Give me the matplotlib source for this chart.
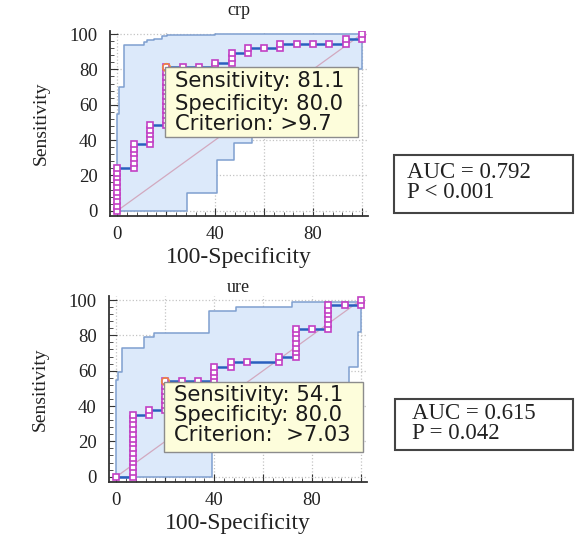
import matplotlib.pyplot as plt
from matplotlib.patches import Rectangle

# crp: roc points (100-specificity, sensitivity) in %
crp_x = [0, 0, 0, 0, 0, 0, 0, 0, 0, 0,
         6.7, 6.7, 6.7, 6.7, 6.7, 6.7,
         13.3, 13.3, 13.3, 13.3, 13.3,
         20, 20, 20, 20, 20, 20, 20, 20, 20, 20, 20, 20, 20,
         26.7, 33.3, 40, 40, 46.7, 46.7, 46.7, 53.3, 53.3, 60,
         66.7, 66.7, 73.3, 80, 86.7, 93.3, 93.3, 100, 100]
crp_y = [0, 2.7, 5.4, 8.1, 10.8, 13.5, 16.2, 18.9, 21.6, 24.3,
         24.3, 27.0, 29.7, 32.4, 35.1, 37.8,
         37.8, 40.5, 43.2, 45.9, 48.6,
         48.6, 51.4, 54.1, 56.8, 59.5, 62.2, 64.9, 67.6, 70.3, 73.0, 75.7, 78.4, 81.1,
         81.1, 81.1, 81.1, 83.8, 83.8, 86.5, 89.2, 89.2, 91.9, 91.9,
         91.9, 94.6, 94.6, 94.6, 94.6, 94.6, 97.3, 97.3, 100]
# confidence band steps (x where step starts, new value)
crp_up_x = [0, 0.7, 2.7, 10.7, 12.1, 14.8, 18.2, 20.3, 40]
crp_up_y = [55, 70, 94, 95.6, 96.5, 97.4, 98.7, 99.4, 100]
crp_lo_x = [28.4, 40.7, 47.5, 55, 72, 88, 100]
crp_lo_y = [10, 28.8, 38.2, 55, 68, 80, 100]

# ure
ure_x = [0,
         6.7, 6.7, 6.7, 6.7, 6.7, 6.7, 6.7, 6.7, 6.7, 6.7, 6.7, 6.7, 6.7, 6.7,
         13.3, 13.3,
         20, 20, 20, 20, 20, 20, 20,
         26.7, 33.3, 40, 40, 40, 40, 46.7, 46.7, 53.3, 66.7, 66.7,
         73.3, 73.3, 73.3, 73.3, 73.3, 73.3, 73.3, 80,
         86.7, 86.7, 86.7, 86.7, 86.7, 86.7, 93.3, 100, 100]
ure_y = [0,
         0, 2.7, 5.4, 8.1, 10.8, 13.5, 16.2, 18.9, 21.6, 24.3, 27.0, 29.7, 32.4, 35.1,
         35.1, 37.8,
         37.8, 40.5, 43.2, 45.9, 48.6, 51.4, 54.1,
         54.1, 54.1, 54.1, 56.8, 59.5, 62.2, 62.2, 64.9, 64.9, 64.9, 67.6,
         67.6, 70.3, 73.0, 75.7, 78.4, 81.1, 83.8, 83.8,
         83.8, 86.5, 89.2, 91.9, 94.6, 97.3, 97.3, 97.3, 100]
ure_up_x = [0, 0.7, 2.2, 11.4, 15.5, 38, 48.9, 72, 100]
ure_up_y = [55, 59, 73, 79, 81.6, 94, 95.8, 98.7, 100]
ure_lo_x = [39.3, 60, 80, 95.1, 98.7, 100]
ure_lo_y = [20, 35, 45, 62.3, 82, 100]

panels = [
    dict(name="crp", x=crp_x, y=crp_y, ux=crp_up_x, uy=crp_up_y, lx=crp_lo_x, ly=crp_lo_y,
         sel=(20, 81.1), lines=["Sensitivity: 81.1", "Specificity: 80.0", "Criterion: >9.7"],
         box=(19.6, 42, 78.8, 39.5), txt_y=[70.2, 57.0, 45.8], pad=11,
         pos=[0.1900, 0.5985, 0.4456, 0.3448]),
    dict(name="ure", x=ure_x, y=ure_y, ux=ure_up_x, uy=ure_up_y, lx=ure_lo_x, ly=ure_lo_y,
         sel=(20, 54.1), lines=["Sensitivity: 54.1", "Specificity: 80.0", "Criterion:  >7.03"],
         box=(19.6, 14.2, 81.2, 39.2), txt_y=[42.8, 31.4, 20.0], pad=3,
         pos=[0.1883, 0.1041, 0.4456, 0.3448]),
]
auc_text = [["AUC = 0.792", "P < 0.001"], ["AUC = 0.615", "P = 0.042"]]


def step_verts(xs, ys):
    vx, vy = [0], [0]
    prev = 0
    for a, b in zip(xs, ys):
        vx += [a, a]
        vy += [prev, b]
        prev = b
    if vx[-1] != 100:
        vx.append(100)
        vy.append(prev)
    return vx, vy


serif = "Liberation Serif"
fig = plt.figure(figsize=(5.79, 5.38), dpi=100)

for p in panels:
    ax = fig.add_axes(p["pos"])
    ux, uy = step_verts(p["ux"], p["uy"])
    lx, ly = step_verts(p["lx"], p["ly"])
    ax.fill(ux + lx[::-1], uy + ly[::-1], color="#dce9fa", zorder=1, lw=0)
    ax.plot(ux, uy, color="#7f9fcf", lw=1.1, zorder=2)
    ax.plot(lx, ly, color="#7f9fcf", lw=1.1, zorder=2)
    ax.plot([0, 100], [0, 100], color="#d2a9bf", lw=0.9, zorder=2)
    ax.plot(p["x"], p["y"], color="#2a5fbf", lw=1.8, zorder=3,
            marker="s", ms=5, mfc="white", mec="#c23fc4", mew=1.2)
    ax.plot(*p["sel"], marker="o", ms=5.5, mfc="none", mec="#f08a3c", mew=1.1, zorder=4)

    bx, by, bw, bh = p["box"]
    ax.add_patch(Rectangle((bx, by), bw, bh, facecolor="#fdfddb", edgecolor="#8c8c8c",
                           lw=1, zorder=5, clip_on=False))
    for t, ty in zip(p["lines"], p["txt_y"]):
        ax.text(23.7, ty, t, fontsize=15.2, family="DejaVu Sans", color="#1a1a1a",
                va="baseline", zorder=6)

    ax.set_xlim(-3, 102.5)
    ax.set_ylim(-3, 102)
    ax.set_xticks([0, 20, 40, 60, 80, 100])
    ax.set_xticklabels(["0", "", "40", "", "80", ""])
    ax.set_yticks([0, 20, 40, 60, 80, 100])
    ax.set_xticks(range(0, 101, 4), minor=True)
    ax.set_yticks(range(0, 101, 4), minor=True)
    ax.tick_params(which="both", direction="in", color="#333333")
    ax.tick_params(which="major", length=6, labelsize=13.5, labelcolor="#222222")
    ax.tick_params(which="minor", length=3)
    ax.tick_params(axis="y", pad=9)
    ax.tick_params(axis="x", pad=7)
    for lab in ax.get_xticklabels() + ax.get_yticklabels():
        lab.set_family(serif)
    ax.grid(True, color="#c4c4c4", linestyle=":", lw=0.9)
    ax.set_axisbelow(True)
    for s in ["top", "right"]:
        ax.spines[s].set_visible(False)
    for s in ["left", "bottom"]:
        ax.spines[s].set_color("#333333")
        ax.spines[s].set_linewidth(1.3)

    ax.set_title(p["name"], family=serif, fontsize=13, color="#222222", pad=p["pad"])
    ax.set_xlabel("100-Specificity", family=serif, fontsize=17, color="#222222")
    ax.set_ylabel("Sensitivity", family=serif, fontsize=14, color="#222222")
    ax.xaxis.set_label_coords(0.5, -0.165)
    ax.yaxis.set_label_coords(-0.235, 0.5)

# AUC boxes (pixel positions)
boxes = [(394, 155, 573, 213, 407, [178, 198]), (395, 399, 573, 450, 412, [419, 439])]
W, H = 579, 538
for (x0, y0, x1, y1, tx, bases), lines in zip(boxes, auc_text):
    fig.add_artist(Rectangle((x0 / W, 1 - y1 / H), (x1 - x0) / W, (y1 - y0) / H,
                             transform=fig.transFigure, facecolor="white",
                             edgecolor="#444444", lw=1.5))
    for t, b in zip(lines, bases):
        fig.text(tx / W, 1 - b / H, t, family=serif, fontsize=16.5, color="#222222",
                 va="baseline")

fig.savefig("out.png", dpi=100)
